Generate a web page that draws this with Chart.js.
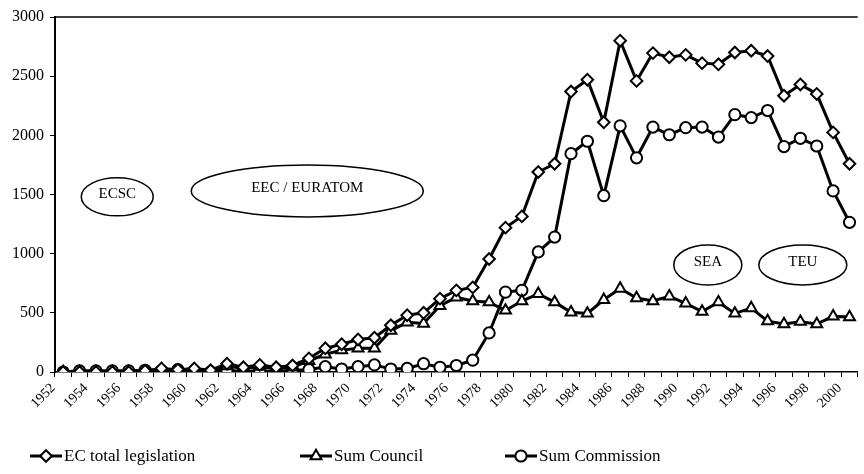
<!DOCTYPE html>
<html>
<head>
<meta charset="utf-8">
<script src="https://cdn.jsdelivr.net/npm/chart.js@4.4.1/dist/chart.umd.min.js"></script>
<style>
  html, body { margin: 0; padding: 0; background: #fff; overflow: hidden; }
</style>
</head>
<body>
<canvas id="graficoLegislacao" width="866" height="474"></canvas>
<script>
// dados
const anos = ['1952','1953','1954','1955','1956','1957','1958','1959','1960','1961',
  '1962','1963','1964','1965','1966','1967','1968','1969','1970','1971',
  '1972','1973','1974','1975','1976','1977','1978','1979','1980','1981',
  '1982','1983','1984','1985','1986','1987','1988','1989','1990','1991',
  '1992','1993','1994','1995','1996','1997','1998','1999','2000'];

const totalLegislacao = [0, 0, 0, 0, 0, 10, 30, 20, 30, 15,
  70, 40, 60, 40, 55, 115, 200, 235, 275, 290,
  395, 480, 500, 620, 690, 715, 955, 1220, 1315, 1690,
  1760, 2370, 2470, 2110, 2800, 2460, 2695, 2660, 2680, 2610,
  2600, 2700, 2715, 2670, 2335, 2430, 2350, 2025, 1760];

const somaConselho = [0, 0, 0, 0, 0, 0, 20, 5, 15, 0,
  50, 30, 45, 30, 40, 95, 150, 185, 200, 200,
  350, 420, 410, 560, 630, 600, 590, 520, 600, 660,
  590, 505, 495, 610, 705, 625, 600, 640, 580, 510,
  590, 495, 540, 430, 405, 425, 405, 470, 465];

const somaComissao = [0, 10, 10, 10, 10, 15, 10, 20, 10, 0,
  15, 5, 10, 5, 15, 20, 45, 25, 45, 60,
  25, 30, 70, 40, 55, 100, 330, 675, 690, 1015,
  1140, 1845, 1950, 1490, 2080, 1810, 2070, 2005, 2065, 2070,
  1985, 2175, 2150, 2210, 1905, 1975, 1910, 1530, 1265];

const ticksY = [0, 500, 1000, 1500, 2000, 2500, 3000];

// rótulos das elipses (períodos dos tratados)
const tratados = ['ECSC', 'EEC / EURATOM', 'SEA', 'TEU'];

const fonte = '"Liberation Serif", "Times New Roman", serif';

// posição das elipses: ano (fracionário), valor, raios em px
const posTratados = [
  { ano: 1955.3, valor: 1480, rx: 36, ry: 19 },
  { ano: 1966.9, valor: 1530, rx: 116, ry: 26 },
  { ano: 1991.35, valor: 905, rx: 34, ry: 20 },
  { ano: 1997.15, valor: 905, rx: 44, ry: 20 }
];

const anotacoes = {
  id: 'anotacoes',
  afterDraw(chart) {
    const ctx = chart.ctx;
    const xs = chart.scales.x;
    const ys = chart.scales.y;
    const area = chart.chartArea;
    const passo = xs.getPixelForValue(1) - xs.getPixelForValue(0);

    // linha superior da área do gráfico
    ctx.save();
    ctx.strokeStyle = '#000';
    ctx.lineWidth = 1.5;
    ctx.beginPath();
    ctx.moveTo(area.left, area.top);
    ctx.lineTo(area.right, area.top);
    ctx.stroke();

    tratados.forEach((texto, i) => {
      const p = posTratados[i];
      const cx = xs.getPixelForValue(0) + (p.ano - 1952) * passo;
      const cy = ys.getPixelForValue(p.valor);
      ctx.lineWidth = 1.5;
      ctx.beginPath();
      ctx.ellipse(cx, cy, p.rx, p.ry, 0, 0, Math.PI * 2);
      ctx.stroke();
      ctx.fillStyle = '#000';
      ctx.font = '15px ' + fonte;
      ctx.textAlign = 'center';
      ctx.textBaseline = 'middle';
      ctx.fillText(texto, cx, cy - 3);
    });
    ctx.restore();
  }
};

const legenda = {
  id: 'legenda',
  afterDraw(chart) {
    const ctx = chart.ctx;
    const inicios = [30, 300, 505];
    const y = 456;
    ctx.save();
    chart.data.datasets.forEach((ds, i) => {
      const x0 = inicios[i];
      ctx.strokeStyle = '#000';
      ctx.lineWidth = 3;
      ctx.beginPath();
      ctx.moveTo(x0, y);
      ctx.lineTo(x0 + 32, y);
      ctx.stroke();
      ctx.fillStyle = '#fff';
      ctx.lineWidth = 2;
      Chart.helpers.drawPoint(ctx, { pointStyle: ds.pointStyle, radius: ds.pointRadius, borderWidth: 2, rotation: 0 }, x0 + 16, y);
      ctx.fillStyle = '#000';
      ctx.font = '17px ' + fonte;
      ctx.textAlign = 'left';
      ctx.textBaseline = 'middle';
      ctx.fillText(ds.label, x0 + 34, y + 1);
    });
    ctx.restore();
  }
};

function serie(label, dados, estilo, raio) {
  return {
    label: label,
    data: dados,
    borderColor: '#000',
    borderWidth: 3,
    pointStyle: estilo,
    pointRadius: raio,
    pointBackgroundColor: '#fff',
    pointBorderColor: '#000',
    pointBorderWidth: 2,
    tension: 0
  };
}

const graficoLegislacao = document.querySelector('#graficoLegislacao');

new Chart(graficoLegislacao, {
  type: 'line',
  data: {
    labels: anos,
    datasets: [
      serie('EC total legislation', totalLegislacao, 'rectRot', 5.8),
      serie('Sum Council', somaConselho, 'triangle', 6.3),
      serie('Sum Commission', somaComissao, 'circle', 5.6)
    ]
  },
  options: {
    responsive: false,
    animation: false,
    layout: { padding: { top: 17, left: 0, right: 0, bottom: 0 } },
    plugins: {
      legend: { display: false },
      tooltip: { enabled: false }
    },
    scales: {
      x: {
        offset: true,
        grid: { offset: true, drawOnChartArea: false, tickLength: 5, color: '#000', lineWidth: 1 },
        border: { color: '#000', width: 1.5 },
        ticks: {
          autoSkip: false,
          minRotation: 45,
          maxRotation: 45,
          labelOffset: -10,
          color: '#000',
          font: { family: fonte, size: 14 },
          callback: (v, i) => (i % 2 === 0 ? anos[i] : '')
        },
        afterFit: (s) => { s.height = 102; }
      },
      y: {
        min: 0,
        max: 3000,
        afterBuildTicks: (s) => { s.ticks = ticksY.map(v => ({ value: v })); },
        grid: { drawOnChartArea: false, tickLength: 5, color: '#000' },
        border: { color: '#000', width: 2 },
        ticks: {
          color: '#000',
          font: { family: fonte, size: 16 },
          padding: 6,
          callback: (v) => String(v)
        },
        afterFit: (s) => { s.width = 55; }
      }
    }
  },
  plugins: [anotacoes, legenda]
});
</script>
</body>
</html>
